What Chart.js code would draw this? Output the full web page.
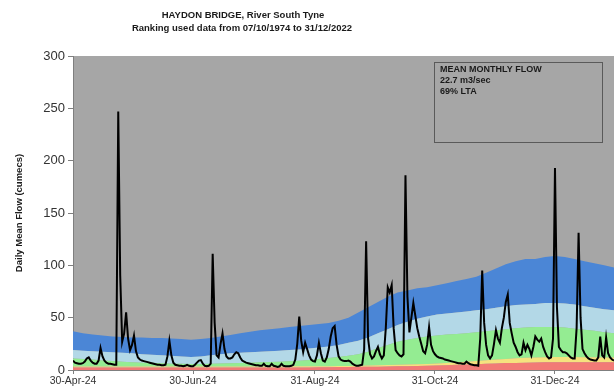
<!DOCTYPE html>
<html>
<head>
<meta charset="utf-8">
<script src="https://cdn.jsdelivr.net/npm/chart.js@4/dist/chart.umd.min.js"></script>
<style>
  html, body { margin: 0; padding: 0; background: #ffffff; }
  #wrap { width: 614px; height: 392px; }
</style>
</head>
<body>
<div id="wrap"><canvas id="flowChart" width="614" height="392"></canvas></div>
<script>
// Chart text
const titleLines = ['HAYDON BRIDGE, River South Tyne', 'Ranking used data from 07/10/1974 to 31/12/2022'];
const noteLines = ['MEAN MONTHLY FLOW', '22.7 m3/sec', '69% LTA'];
const yAxisTitle = 'Daily Mean Flow (cumecs)';

// x axis: days counted from 30-Apr-24
const tickDays = [0, 61, 123, 184, 245];
const tickLabels = ['30-Apr-24', '30-Jun-24', '31-Aug-24', '31-Oct-24', '31-Dec-24'];
const lastDay = 275;

// Ranked flow bands (upper edge of each band, cumecs), sampled every 5 days
const bandDays = [0, 5, 10, 15, 20, 25, 30, 35, 40, 45, 50, 55, 60, 65, 70, 75, 80, 85, 90, 95,
  100, 105, 110, 115, 120, 125, 130, 135, 140, 145, 150, 155, 160, 165, 170, 175, 180, 185, 190, 195,
  200, 205, 210, 215, 220, 225, 230, 235, 240, 245, 250, 255, 260, 265, 270, 275];
const redTop = [2.5, 2.5, 2.5, 2.5, 2.5, 2.5, 2.5, 2.5, 2.5, 2.5, 2.5, 2.5, 2.5, 2.5, 2.5, 2.5, 2.5, 2.5, 2.5, 2.5,
  2.5, 2.5, 2.5, 2.5, 2.5, 2.6, 2.7, 2.8, 2.9, 3.0, 3.0, 3.2, 3.3, 3.5, 3.6, 3.8, 4.0, 4.3, 4.6, 5.0,
  5.3, 5.6, 6.0, 6.3, 6.6, 6.8, 7.0, 7.2, 7.4, 7.5, 7.5, 7.5, 7.5, 7.4, 7.4, 7.3];
const yellowTop = [3.3, 3.3, 3.3, 3.3, 3.3, 3.3, 3.3, 3.3, 3.3, 3.3, 3.3, 3.3, 3.3, 3.3, 3.3, 3.3, 3.3, 3.3, 3.3, 3.3,
  3.4, 3.4, 3.5, 3.5, 3.6, 3.6, 3.7, 3.8, 3.9, 4.0, 4.2, 4.5, 4.8, 5.0, 5.2, 5.5, 5.8, 6.2, 6.8, 7.3,
  8.0, 8.7, 9.3, 10.0, 10.6, 11.2, 11.6, 12.0, 12.3, 12.5, 12.5, 12.4, 12.3, 12.2, 12.0, 12.0];
const greenTop = [11, 10.5, 10, 9, 8.5, 8, 7.5, 7, 7, 6.5, 6, 6, 5.8, 5.8, 6, 6.2, 6.5, 6.7, 7, 7.3,
  7.6, 8, 8.4, 8.8, 9.5, 10.5, 11.5, 12.5, 13.5, 15, 17.5, 21, 24, 27, 29, 30.5, 32, 33, 34, 34.5,
  35, 36, 37, 38, 39, 40, 40.5, 41, 41, 41, 40.5, 39.5, 38.5, 37.5, 36, 35];
const paleBlueTop = [19, 18.5, 18, 17.5, 17, 16.5, 16, 15, 14.5, 14, 13.5, 13, 12.5, 13, 14, 15, 16, 16.5, 17, 17.5,
  18, 18.5, 19, 19.5, 20.5, 21.5, 22.5, 24, 26, 28, 31, 35, 39, 43, 46, 49, 51, 53, 54, 55,
  56, 57, 58, 59.5, 61, 62, 62.5, 63, 64, 64, 63.5, 62.5, 61, 59.5, 58, 57];
const blueTop = [37, 35, 34, 33, 32, 31.5, 31, 31, 30.5, 30.5, 30, 29.5, 29, 29.5, 30.5, 32, 33.5, 35, 36.5, 38,
  39, 40, 41, 42, 43, 44, 45, 47, 50, 55, 60, 65, 70, 74, 76, 78, 79, 81, 83, 85,
  87, 89, 93, 97, 101, 104, 106, 106, 108, 109, 108, 106, 104, 102, 100, 98];

// Daily mean flow (cumecs), one value per day from 30-Apr-24
const dailyFlow = [
  9, 7, 6.5, 6, 6, 6.5, 8, 11, 12, 9,            // 0-9
  7, 6, 6, 9, 21, 13, 9, 7, 6, 6,                // 10-19
  5.5, 5, 5, 247, 90, 27, 35, 55, 30, 19,        // 20-29
  24, 33, 18, 12, 10, 9, 8.5, 8, 7.5, 7,         // 30-39
  6.5, 6, 5.5, 5, 5, 4.5, 4.5, 5, 13, 28,        // 40-49
  14, 7, 5, 4.5, 4, 4, 3.5, 4, 5, 4,             // 50-59
  3.5, 3.5, 5, 7, 9, 9.5, 6, 4, 3.5, 4,          // 60-69
  6, 111, 45, 14, 12, 25, 35, 20, 13, 11,        // 70-79
  11, 12, 15, 17, 16, 12, 9, 8, 7, 6.5,          // 80-89
  6, 5.5, 5, 4.5, 4.5, 4, 4, 6, 4, 3.5,          // 90-99
  3.5, 6, 4, 3.5, 3, 3.5, 6, 4, 3.5, 3.5,        // 100-109
  3.5, 4, 5, 10, 25, 51, 28, 17, 26, 20,         // 110-119
  14, 10, 8.5, 8, 14, 26, 16, 9, 8, 12,          // 120-129
  20, 32, 40, 42, 24, 13, 10, 9, 8.5, 8.5,       // 130-139
  9, 8, 6, 5, 4, 4, 4.5, 5, 20, 123,             // 140-149
  30, 15, 11, 13, 18, 22, 15, 11, 14, 40,        // 150-159
  79, 74, 81, 40, 19, 16, 14, 13, 15, 186,       // 160-169
  70, 36, 50, 64, 52, 40, 32, 25, 18, 16,        // 170-179
  24, 41, 24, 18, 15, 13, 12, 11.5, 11, 10,      // 180-189
  9.5, 9, 8.5, 8, 7.5, 7, 6.5, 6.5, 6, 6,        // 190-199
  8, 6.5, 5.5, 5, 4.5, 4.5, 4, 30, 95, 45,       // 200-209
  24, 14, 11, 14, 25, 38, 30, 26, 40, 50,        // 210-219
  65, 72, 45, 35, 26, 22, 17, 14, 15, 26,        // 220-229
  19, 24, 20, 14, 22, 32, 29, 27, 30, 22,        // 230-239
  17, 13, 11, 12, 30, 193, 60, 22, 19, 17,       // 240-249
  17, 16, 14, 12, 11, 11, 40, 131, 50, 20,       // 250-259
  16, 13, 11, 10, 9.5, 9, 9, 12, 32, 14,         // 260-269
  12, 31, 16, 12, 10, 9                          // 270-275
];

const FONT = "'Liberation Sans', Arial, Helvetica, sans-serif";

function bandPoints(tops) {
  return bandDays.map((d, i) => ({ x: d, y: tops[i] }));
}

function band(label, tops, color, fill) {
  return {
    label: label,
    data: bandPoints(tops),
    borderWidth: 0,
    borderColor: color,
    backgroundColor: color,
    pointRadius: 0,
    tension: 0,
    fill: fill,
    order: 1
  };
}

// Grey plot background, title lines and the monthly flow note
const decorations = {
  id: 'decorations',
  beforeDraw(chart) {
    const { ctx, chartArea: a } = chart;
    ctx.save();
    ctx.fillStyle = '#a6a6a6';
    ctx.fillRect(a.left, a.top, a.right - a.left, a.bottom - a.top);
    ctx.restore();
  },
  afterDraw(chart) {
    const ctx = chart.ctx;
    ctx.save();
    ctx.fillStyle = '#1a1a1a';
    ctx.textAlign = 'center';
    ctx.textBaseline = 'middle';
    ctx.font = 'bold 9.5px ' + FONT;
    ctx.fillText(titleLines[0], 243, 15);
    ctx.fillText(titleLines[1], 242, 28);

    // note box
    ctx.strokeStyle = '#5a5a5a';
    ctx.lineWidth = 1;
    ctx.strokeRect(434.5, 62.5, 168, 80);
    ctx.textAlign = 'left';
    ctx.font = 'bold 9px ' + FONT;
    noteLines.forEach((t, i) => ctx.fillText(t, 440, 70 + i * 11));
    ctx.restore();
  }
};

new Chart(document.getElementById('flowChart'), {
  type: 'line',
  data: {
    datasets: [
      band('red', redTop, '#f27a76', 'origin'),
      band('yellow', yellowTop, '#f6e27e', '-1'),
      band('green', greenTop, '#94ec92', '-1'),
      band('pale blue', paleBlueTop, '#b3d8e7', '-1'),
      band('blue', blueTop, '#4b86d6', '-1'),
      {
        label: 'Daily mean flow',
        data: dailyFlow.map((v, i) => ({ x: i, y: v })),
        borderColor: '#000000',
        borderWidth: 2,
        pointRadius: 0,
        tension: 0,
        fill: false,
        order: -1
      }
    ]
  },
  options: {
    responsive: false,
    animation: false,
    events: [],
    layout: { padding: { top: 56, left: 0, right: 0, bottom: 0 } },
    plugins: {
      legend: { display: false },
      tooltip: { enabled: false },
      title: { display: false }
    },
    scales: {
      x: {
        type: 'linear',
        min: 0,
        max: lastDay,
        afterBuildTicks(scale) {
          scale.ticks = tickDays.map(v => ({ value: v }));
        },
        afterFit(scale) { scale.height = 22; },
        ticks: {
          autoSkip: false,
          maxRotation: 0,
          padding: 1,
          color: '#333333',
          font: { family: FONT, size: 10.5 },
          callback: (value) => {
            const k = tickDays.indexOf(value);
            return k >= 0 ? tickLabels[k] : '';
          }
        },
        grid: { drawOnChartArea: false, drawTicks: true, tickLength: 4, color: '#7f7f7f' },
        border: { display: true, color: '#7f7f7f' }
      },
      y: {
        min: 0,
        max: 300,
        afterFit(scale) { scale.width = 73; },
        ticks: {
          stepSize: 50,
          padding: 3,
          color: '#333333',
          font: { family: FONT, size: 13 }
        },
        title: {
          display: true,
          text: yAxisTitle,
          color: '#1a1a1a',
          font: { family: FONT, size: 9.5, weight: 'bold' },
          padding: { top: 14, bottom: 0 }
        },
        grid: { drawOnChartArea: false, drawTicks: true, tickLength: 5, color: '#7f7f7f' },
        border: { display: true, color: '#7f7f7f' }
      }
    }
  },
  plugins: [decorations]
});
</script>
</body>
</html>
